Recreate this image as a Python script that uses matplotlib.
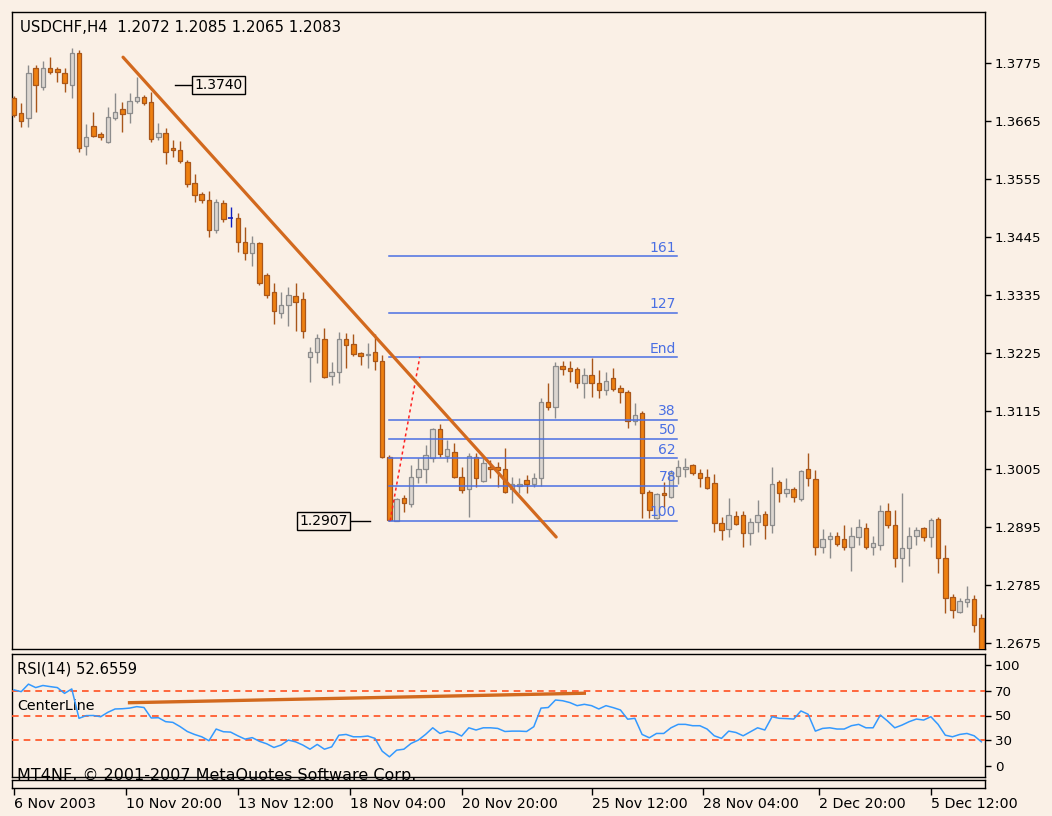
import numpy as np
import matplotlib.pyplot as plt

# USDCHF H4 candles (one entry per bar)
opens = [1.3709, 1.3680, 1.3671, 1.3766, 1.3730, 1.3766, 1.3764, 1.3756, 1.3733, 1.3794,
         1.3618, 1.3656, 1.3640, 1.3625, 1.3671, 1.3688, 1.3680, 1.3703, 1.3711, 1.3701,
         1.3635, 1.3642, 1.3614, 1.3610, 1.3587, 1.3547, 1.3527, 1.3515, 1.3458, 1.3509,
         1.3481, 1.3481, 1.3436, 1.3415, 1.3434, 1.3373, 1.3341, 1.3301, 1.3316, 1.3333,
         1.3327, 1.3217, 1.3227, 1.3252, 1.3181, 1.3189, 1.3252, 1.3242, 1.3225, 1.3221,
         1.3227, 1.3210, 1.3028, 1.2906, 1.2950, 1.2939, 1.2990, 1.3005, 1.3026, 1.3081,
         1.3030, 1.3037, 1.2990, 1.2967, 1.3028, 1.2982, 1.3009, 1.3009, 1.3005, 1.2967,
         1.2973, 1.2984, 1.2977, 1.2988, 1.3132, 1.3123, 1.3200, 1.3197, 1.3195, 1.3168,
         1.3183, 1.3168, 1.3155, 1.3178, 1.3159, 1.3151, 1.3096, 1.3111, 1.2961, 1.2912,
         1.2959, 1.2952, 1.2992, 1.3005, 1.3013, 1.2997, 1.2990, 1.2978, 1.2903, 1.2891,
         1.2916, 1.2918, 1.2884, 1.2904, 1.2920, 1.2899, 1.2980, 1.2959, 1.2967, 1.2948,
         1.3005, 1.2986, 1.2857, 1.2872, 1.2878, 1.2872, 1.2857, 1.2876, 1.2893, 1.2857,
         1.2861, 1.2925, 1.2899, 1.2836, 1.2855, 1.2878, 1.2893, 1.2876, 1.2910, 1.2836,
         1.2762, 1.2734, 1.2753, 1.2758, 1.2722]
highs = [1.3712, 1.3699, 1.3771, 1.3771, 1.3779, 1.3786, 1.3767, 1.3766, 1.3803, 1.3800,
         1.3659, 1.3682, 1.3644, 1.3692, 1.3718, 1.3701, 1.3718, 1.3748, 1.3714, 1.3720,
         1.3661, 1.3652, 1.3629, 1.3627, 1.3591, 1.3564, 1.3530, 1.3532, 1.3517, 1.3515,
         1.3502, 1.3491, 1.3464, 1.3447, 1.3436, 1.3377, 1.3358, 1.3341, 1.3350, 1.3358,
         1.3341, 1.3236, 1.3261, 1.3272, 1.3208, 1.3265, 1.3263, 1.3261, 1.3227, 1.3244,
         1.3261, 1.3221, 1.3032, 1.2950, 1.2956, 1.3013, 1.3026, 1.3051, 1.3083, 1.3090,
         1.3060, 1.3054, 1.3009, 1.3035, 1.3035, 1.3026, 1.3022, 1.3018, 1.3045, 1.2990,
         1.2988, 1.2994, 1.2997, 1.3140, 1.3168, 1.3208, 1.3210, 1.3210, 1.3198, 1.3197,
         1.3216, 1.3193, 1.3189, 1.3197, 1.3164, 1.3155, 1.3130, 1.3115, 1.2965, 1.2959,
         1.2980, 1.3003, 1.3022, 1.3026, 1.3014, 1.3005, 1.3005, 1.2996, 1.2914, 1.2950,
         1.2925, 1.2925, 1.2912, 1.2946, 1.2925, 1.3009, 1.2984, 1.2988, 1.2971, 1.3003,
         1.3035, 1.3003, 1.2891, 1.2886, 1.2886, 1.2899, 1.2895, 1.2910, 1.2903, 1.2878,
         1.2937, 1.2941, 1.2927, 1.2959, 1.2895, 1.2895, 1.2895, 1.2912, 1.2914, 1.2861,
         1.2768, 1.2760, 1.2783, 1.2766, 1.2730]
lows = [1.3673, 1.3654, 1.3654, 1.3682, 1.3724, 1.3754, 1.3739, 1.3720, 1.3709, 1.3606,
        1.3601, 1.3635, 1.3629, 1.3623, 1.3667, 1.3644, 1.3661, 1.3699, 1.3695, 1.3625,
        1.3629, 1.3583, 1.3597, 1.3585, 1.3540, 1.3511, 1.3509, 1.3445, 1.3453, 1.3473,
        1.3464, 1.3417, 1.3401, 1.3390, 1.3354, 1.3329, 1.3280, 1.3291, 1.3276, 1.3267,
        1.3253, 1.3170, 1.3206, 1.3178, 1.3164, 1.3168, 1.3197, 1.3219, 1.3202, 1.3197,
        1.3193, 1.3026, 1.2907, 1.2908, 1.2923, 1.2933, 1.2978, 1.2978, 1.3018, 1.3028,
        1.3018, 1.2988, 1.2959, 1.2914, 1.2971, 1.2980, 1.2988, 1.2971, 1.2959, 1.2941,
        1.2959, 1.2959, 1.2971, 1.2973, 1.3117, 1.3102, 1.3183, 1.3170, 1.3159, 1.3140,
        1.3142, 1.3140, 1.3145, 1.3153, 1.3130, 1.3083, 1.3088, 1.2912, 1.2912, 1.2910,
        1.2933, 1.2950, 1.2977, 1.2990, 1.2994, 1.2971, 1.2967, 1.2886, 1.2870, 1.2876,
        1.2899, 1.2857, 1.2861, 1.2886, 1.2872, 1.2884, 1.2942, 1.2952, 1.2942, 1.2944,
        1.2973, 1.2842, 1.2846, 1.2836, 1.2859, 1.2851, 1.2812, 1.2861, 1.2853, 1.2842,
        1.2851, 1.2893, 1.2819, 1.2791, 1.2821, 1.2861, 1.2868, 1.2857, 1.2808, 1.2732,
        1.2722, 1.2732, 1.2743, 1.2696, 1.2643]
closes = [1.3676, 1.3665, 1.3756, 1.3733, 1.3766, 1.3758, 1.3758, 1.3737, 1.3794, 1.3614,
          1.3635, 1.3637, 1.3635, 1.3673, 1.3682, 1.3678, 1.3703, 1.3711, 1.3699, 1.3631,
          1.3642, 1.3606, 1.3610, 1.3589, 1.3546, 1.3525, 1.3515, 1.3458, 1.3511, 1.3479,
          1.3481, 1.3436, 1.3415, 1.3434, 1.3358, 1.3335, 1.3305, 1.3316, 1.3335, 1.3322,
          1.3267, 1.3227, 1.3253, 1.3180, 1.3189, 1.3252, 1.3240, 1.3223, 1.3219, 1.3223,
          1.3210, 1.3028, 1.2908, 1.2948, 1.2941, 1.2990, 1.3005, 1.3032, 1.3081, 1.3033,
          1.3043, 1.2990, 1.2965, 1.3030, 1.2988, 1.3016, 1.3005, 1.3003, 1.2961, 1.2977,
          1.2977, 1.2977, 1.2988, 1.3132, 1.3123, 1.3200, 1.3195, 1.3191, 1.3168, 1.3183,
          1.3168, 1.3155, 1.3172, 1.3157, 1.3151, 1.3096, 1.3107, 1.2959, 1.2927, 1.2958,
          1.2956, 1.2997, 1.3009, 1.3009, 1.2997, 1.2988, 1.2969, 1.2903, 1.2889, 1.2918,
          1.2901, 1.2884, 1.2904, 1.2918, 1.2899, 1.2977, 1.2959, 1.2967, 1.2952, 1.3001,
          1.2988, 1.2857, 1.2872, 1.2878, 1.2863, 1.2857, 1.2878, 1.2895, 1.2857, 1.2865,
          1.2925, 1.2899, 1.2836, 1.2855, 1.2878, 1.2889, 1.2876, 1.2908, 1.2836, 1.2760,
          1.2738, 1.2755, 1.2758, 1.2709, 1.2652]

# RSI(14) line in the lower window
rsi = [70.8, 69.4, 75.5, 72.7, 74.4, 73.5, 72.7, 68.0, 71.6, 47.7,
       49.9, 50.0, 49.0, 52.6, 55.3, 55.5, 56.0, 57.2, 56.5, 48.0,
       48.2, 45.0, 44.4, 41.0, 37.0, 34.6, 32.7, 29.5, 39.0, 36.8,
       36.5, 33.5, 30.8, 32.0, 29.0, 27.0, 24.0, 26.0, 30.0, 28.6,
       26.0, 22.6, 26.5, 22.6, 24.5, 34.0, 34.6, 32.7, 32.7, 33.3,
       31.4, 21.0, 16.4, 21.8, 22.6, 27.3, 30.0, 34.6, 40.0, 35.4,
       37.3, 36.2, 33.3, 40.0, 38.2, 40.0, 40.0, 39.5, 37.0, 37.3,
       37.3, 37.0, 40.9, 56.0, 56.5, 62.6, 62.0, 60.5, 58.0, 59.1,
       58.0, 55.3, 58.0, 56.4, 54.5, 47.0, 47.7, 34.6, 31.9, 35.4,
       35.4, 40.0, 42.8, 42.8, 41.7, 41.7, 39.0, 33.5, 31.4, 37.3,
       36.2, 33.5, 36.8, 40.0, 38.2, 49.0, 47.7, 47.5, 47.1, 53.7,
       51.0, 37.3, 39.5, 40.0, 39.0, 39.0, 41.7, 42.8, 40.0, 40.0,
       50.4, 45.5, 40.0, 42.2, 45.0, 47.1, 46.3, 49.0, 42.8, 34.0,
       32.7, 34.6, 35.4, 33.5, 28.6]
rsi_levels = [70, 50, 30]

# drawn objects
trend_x = [15.1, 75.1]
trend_y = [1.3786, 1.2876]
centerline_x = [16, 79]
centerline_y = [60.4, 68.1]
fib_low, fib_end = 1.2907, 1.3217
fib_ratios = [-0.618, -0.27, 0.0, 0.382, 0.5, 0.618, 0.786, 1.0]
fib_labels = ['161', '127', 'End', '38', '50', '62', '78', '100']
fib_x = [52, 91.8]
fib_base_x = [52.1, 56.2]

price_ticks = [1.3775, 1.3665, 1.3555, 1.3445, 1.3335, 1.3225,
               1.3115, 1.3005, 1.2895, 1.2785, 1.2675]
rsi_ticks = [91, 70, 50, 30, 9]
rsi_tick_labels = ['100', '70', '50', '30', '0']
date_ticks = [0, 15.5, 31, 46.5, 62, 80, 95.5, 111.5, 127]
date_labels = ['6 Nov 2003', '10 Nov 20:00', '13 Nov 12:00', '18 Nov 04:00',
               '20 Nov 20:00', '25 Nov 12:00', '28 Nov 04:00', '2 Dec 20:00',
               '5 Dec 12:00']

BG = '#FAF0E6'
W, H = 1052, 816

fig = plt.figure(figsize=(W / 100, H / 100), dpi=100, facecolor=BG)


def px_axes(x0, y0, x1, y1):
    a = fig.add_axes([x0 / W, 1 - y1 / H, (x1 - x0) / W, (y1 - y0) / H])
    a.set_facecolor(BG)
    for s in a.spines.values():
        s.set_color('black')
        s.set_linewidth(1.0)
    return a


ax = px_axes(12, 12, 985, 649)
ax2 = px_axes(12, 654, 985, 777)
ax3 = px_axes(12, 780, 985, 788)

o = np.array(opens)
c = np.array(closes)
x = np.arange(len(o))
up = c > o
down = c < o
doji = c == o

# wicks
wick_col = np.where(up, '#8C8C8C', '#A8561A')
wick_col = np.where(doji, '#1020C0', wick_col)
ax.vlines(x, lows, highs, colors=wick_col, lw=1.0, zorder=2)

# bodies
bottom = np.minimum(o, c)
height = np.maximum(np.abs(c - o), 0.00012)
ax.bar(x[up], height[up], bottom=bottom[up], width=0.62,
       color='#DCD6D0', edgecolor='#8C8C8C', lw=0.9, zorder=3)
ax.bar(x[down], height[down], bottom=bottom[down], width=0.62,
       color='#EE8010', edgecolor='#A8561A', lw=0.9, zorder=3)
ax.hlines(o[doji], x[doji] - 0.3, x[doji] + 0.3, colors='#1020C0', lw=1.2, zorder=3)

# trend line
ax.plot(trend_x, trend_y, color='#D2691E', lw=2.3, zorder=5, solid_capstyle='round')

# fibonacci expansion
rng = fib_end - fib_low
for r, lab in zip(fib_ratios, fib_labels):
    lvl = fib_end - r * rng
    ax.plot(fib_x, [lvl, lvl], color='#4A6FE3', lw=1.1, zorder=4)
    ax.text(fib_x[1] - 0.1, lvl + 0.0003, lab, color='#4A6FE3', fontsize=10,
            ha='right', va='bottom', zorder=4)
ax.plot(fib_base_x, [fib_low, fib_end], color='#FF2020', lw=1.1,
        linestyle=(0, (2, 2)), zorder=4)

# price labels
ax.plot([22.3, 24.65], [1.3733, 1.3733], color='black', lw=1, zorder=5)
ax.text(25.0, 1.3733, '1.3740', fontsize=10, ha='left', va='center', zorder=6,
        bbox=dict(boxstyle='square,pad=0.15', fc=BG, ec='black', lw=1))
ax.plot([46.5, 49.3], [fib_low, fib_low], color='black', lw=1, zorder=5)
ax.text(46.2, fib_low, '1.2907', fontsize=10, ha='right', va='center', zorder=6,
        bbox=dict(boxstyle='square,pad=0.15', fc=BG, ec='black', lw=1))

ax.text(0.008, 0.976, 'USDCHF,H4  1.2072 1.2085 1.2065 1.2083', transform=ax.transAxes,
        fontsize=10.8, ha='left', va='center')

ax.set_xlim(-0.28, 134.5)
ax.set_ylim(1.26636, 1.38717)
ax.set_xticks([])
ax.yaxis.tick_right()
ax.set_yticks(price_ticks)
ax.set_yticklabels([f'{p:.4f}' for p in price_ticks])
ax.tick_params(axis='y', direction='out', length=4, width=1, pad=3, labelsize=9.6)

# RSI window
ax2.plot(centerline_x, centerline_y, color='#D2691E', lw=2.4, zorder=2)
for lv in rsi_levels:
    ax2.axhline(lv, color='#FF5020', lw=1.2, linestyle=(0, (4, 3)), zorder=3)
ax2.plot(x, rsi, color='#3399FF', lw=1.1, zorder=4)
ax2.text(0.005, 0.878, 'RSI(14) 52.6559', transform=ax2.transAxes, fontsize=10.6,
         ha='left', va='center')
ax2.text(0.005, 0.577, 'CenterLine', transform=ax2.transAxes, fontsize=10.3,
         ha='left', va='center')
ax2.text(0.005, 0.015, 'MT4NF, \u00a9 2001-2007 MetaQuotes Software Corp.',
         transform=ax2.transAxes, fontsize=11.5, ha='left', va='center',
         clip_on=False, zorder=1)
ax2.set_xlim(-0.28, 134.5)
ax2.set_ylim(0, 100)
ax2.set_xticks([])
ax2.yaxis.tick_right()
ax2.set_yticks(rsi_ticks)
ax2.set_yticklabels(rsi_tick_labels)
ax2.tick_params(axis='y', direction='out', length=4, width=1, pad=3, labelsize=9.6)

# empty strip with the time axis
ax3.set_xlim(-0.28, 134.5)
ax3.set_yticks([])
ax3.set_xticks(date_ticks)
ax3.set_xticklabels(date_labels)
ax3.tick_params(axis='x', direction='out', length=5, width=1, pad=1.5, labelsize=10.3)
for lab in ax3.get_xticklabels():
    lab.set_ha('left')

fig.savefig('out.png', dpi=100, facecolor=BG)
